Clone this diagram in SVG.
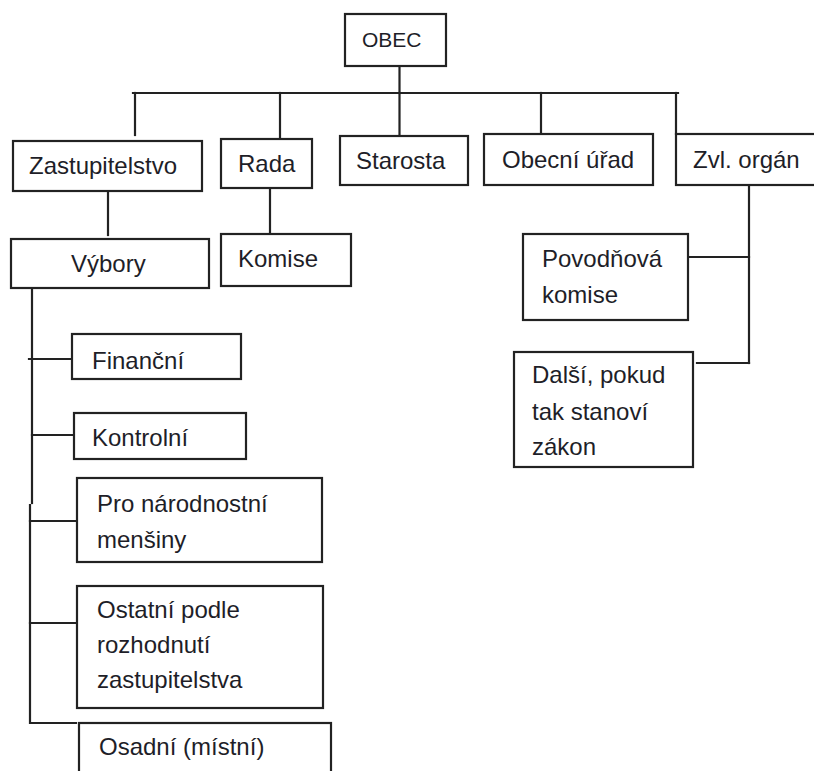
<svg xmlns="http://www.w3.org/2000/svg" width="814" height="771" viewBox="0 0 814 771">
<style>
  .box { fill: #ffffff; stroke: #222222; stroke-width: 2.2; }
  .ln { fill: none; stroke: #222222; stroke-width: 2.2; stroke-linecap: square; }
  text { font-family: "Liberation Sans", Arial, sans-serif; font-size: 24px; fill: #1e1e28; }
</style>
<rect width="814" height="771" fill="#ffffff"/>
<g id="connectors">
  <path class="ln" d="M399.5 66 V93"/>
  <path class="ln" d="M133 93 H678"/>
  <path class="ln" d="M135 93 V135"/>
  <path class="ln" d="M280 93 V139"/>
  <path class="ln" d="M399.5 93 V136"/>
  <path class="ln" d="M541 93 V134"/>
  <path class="ln" d="M676 93 V134"/>
  <path class="ln" d="M108 191 V235"/>
  <path class="ln" d="M270 188 V234"/>
  <path class="ln" d="M32 288 V503"/>
  <path class="ln" d="M30 505 V723 H76"/>
  <path class="ln" d="M29 359 H75"/>
  <path class="ln" d="M32 435 H74"/>
  <path class="ln" d="M30 521 H77"/>
  <path class="ln" d="M30 623 H77"/>
  <path class="ln" d="M749 185 V363"/>
  <path class="ln" d="M688 257 H749"/>
  <path class="ln" d="M697 363 H749"/>
</g>
<g id="obec">
  <rect class="box" x="345" y="14" width="101" height="52"/>
  <text x="362" y="47" style="font-size:21px">OBEC</text>
</g>
<g id="zastupitelstvo">
  <rect class="box" x="13" y="141" width="189" height="50"/>
  <text x="29" y="174">Zastupitelstvo</text>
</g>
<g id="rada">
  <rect class="box" x="221" y="139" width="91" height="49"/>
  <text x="238" y="172">Rada</text>
</g>
<g id="starosta">
  <rect class="box" x="340" y="136" width="128" height="49"/>
  <text x="356" y="169">Starosta</text>
</g>
<g id="obecni-urad">
  <rect class="box" x="484" y="134" width="169" height="51"/>
  <text x="502" y="168">Obecní úřad</text>
</g>
<g id="zvl-organ">
  <rect class="box" x="676" y="134" width="160" height="51"/>
  <text x="693" y="168">Zvl. orgán</text>
</g>
<g id="vybory">
  <rect class="box" x="11" y="239" width="198" height="49"/>
  <text x="71" y="272">Výbory</text>
</g>
<g id="komise">
  <rect class="box" x="221" y="234" width="130" height="52"/>
  <text x="238" y="267">Komise</text>
</g>
<g id="financni">
  <rect class="box" x="72" y="334" width="169" height="45"/>
  <text x="92" y="369">Finanční</text>
</g>
<g id="kontrolni">
  <rect class="box" x="74" y="413" width="172" height="46"/>
  <text x="92" y="446">Kontrolní</text>
</g>
<g id="narodnostni">
  <rect class="box" x="77" y="478" width="245" height="84"/>
  <text x="97" y="512">Pro národnostní</text>
  <text x="97" y="548">menšiny</text>
</g>
<g id="ostatni">
  <rect class="box" x="77" y="586" width="246" height="122"/>
  <text x="97" y="618">Ostatní podle</text>
  <text x="97" y="653">rozhodnutí</text>
  <text x="97" y="688">zastupitelstva</text>
</g>
<g id="osadni">
  <rect class="box" x="79" y="723" width="252" height="70"/>
  <text x="99" y="755">Osadní (místní)</text>
</g>
<g id="povodnova">
  <rect class="box" x="523" y="234" width="165" height="86"/>
  <text x="542" y="267">Povodňová</text>
  <text x="542" y="303">komise</text>
</g>
<g id="dalsi">
  <rect class="box" x="514" y="352" width="179" height="115"/>
  <text x="532" y="383">Další, pokud</text>
  <text x="532" y="420">tak stanoví</text>
  <text x="532" y="455">zákon</text>
</g>
</svg>
